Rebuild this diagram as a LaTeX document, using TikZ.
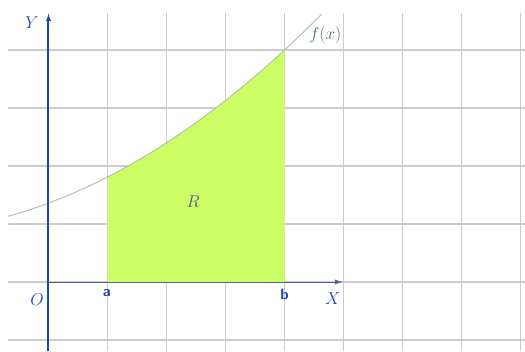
\documentclass[tikz,border=0pt]{standalone}
\usepackage{tikz}
\usetikzlibrary{arrows.meta}
\definecolor{gridgray}{HTML}{CCCCCC}
\definecolor{axblue}{HTML}{1A48B0}
\definecolor{areagreen}{HTML}{CCFF66}
\definecolor{curvegreen}{HTML}{A9BFA9}
\definecolor{labgreen}{HTML}{3F7F5F}
\definecolor{regblue}{HTML}{4A5A8A}

\begin{document}
\begin{tikzpicture}[x=59bp,y=58bp,
    gridline/.style={gridgray,line width=1.8bp},
    axis/.style={axblue,line width=2bp,-{Latex[length=8bp,width=5bp]}},
    lab/.style={text=axblue,font=\fontsize{17}{20}\selectfont,inner sep=0pt}]
  \useasboundingbox (-0.822,-1.19) rectangle (8.076,4.862);
  % grid
  \foreach \i in {0,...,8} \draw[gridline] (\i,-1.19) -- (\i,4.64);
  \foreach \j in {-1,...,4} \draw[gridline] (-0.686,\j) -- (8.076,\j);
  % area under f between a and b
  \fill[areagreen] (1,0) -- plot[domain=1:4,smooth,samples=30] (\x,{0.07*\x*\x+0.38*\x+1.36}) -- (4,0) -- cycle;
  \draw[curvegreen,line width=0.9bp] plot[domain=-0.686:4.63,smooth,samples=40] (\x,{0.07*\x*\x+0.38*\x+1.36});
  % axes
  \coordinate (o) at (0,0);
  \coordinate (xend) at (4.99,0);
  \coordinate (ybot) at (0,-1.19);
  \coordinate (yend) at (0,4.64);
  \draw[axis,line width=1bp,axblue!55!gray] (o) -- (xend);
  \draw[axis] (ybot) -- (yend);
  % labels
  \node[lab] (ylab) at (-0.28,4.48) {$Y$};
  \node[lab] (olab) at (-0.195,-0.31) {$O$};
  \node[lab] (xlab) at (4.82,-0.28) {$X$};
  \node[lab,font=\fontsize{15}{18}\selectfont\sffamily\bfseries] (alab) at (0.99,-0.19) {a};
  \node[lab,font=\fontsize{15}{18}\selectfont\sffamily\bfseries] (blab) at (4.0,-0.21) {b};
  \node[lab,text=regblue] (rlab) at (2.45,1.38) {$R$};
  \node[lab,text=labgreen] (flab) at (4.69,4.26) {$f(x)$};
\end{tikzpicture}
\end{document}
